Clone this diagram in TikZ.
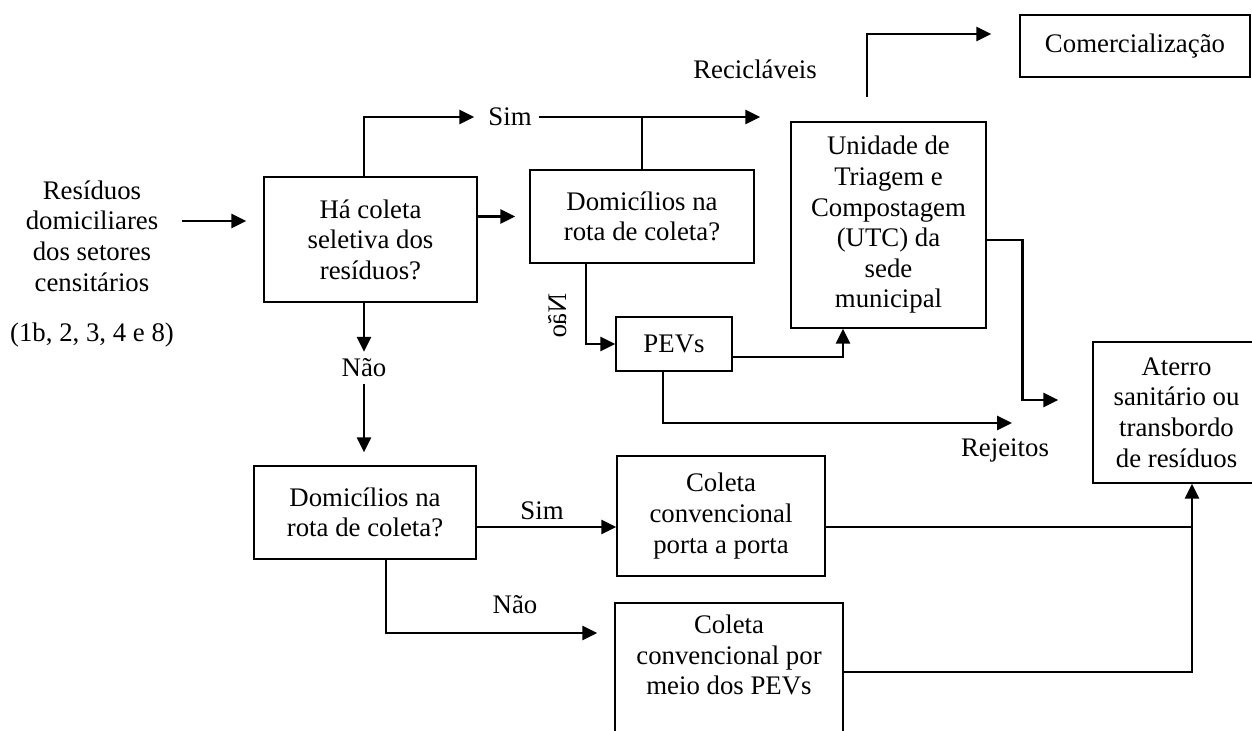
\documentclass[tikz,border=0pt]{standalone}
\usepackage{fontspec}
\setmainfont{Liberation Serif}
\usepackage{tikz}
\usetikzlibrary{arrows.meta}
\usetikzlibrary{positioning}

\begin{document}
\begin{tikzpicture}[x=0.5pt,y=-0.5pt,
	font=\fontsize{13.4}{15.3}\selectfont,
  box/.style={draw,line width=0.7pt,align=center},
  seta/.style={line width=1.35pt,-{Triangle[length=7.5pt,width=7pt]}},
  linha/.style={line width=1.35pt}]
  \useasboundingbox (0,0) rectangle (1252,731);

  \node[align=center] (src) at (92,236) {Resíduos\\domiciliares\\dos setores\\censitários};
  \node (srcNum) at (92,335) {(1b, 2, 3, 4 e 8)};
  \node[box,minimum width=106.5pt,minimum height=62.5pt] (haColeta) at (370.5,239.5) {Há coleta\\seletiva dos\\resíduos?};
  \node[box,minimum width=112pt,minimum height=46.5pt] (domTop) at (642,216.5) {Domicílios na\\rota de coleta?};
  \node[box,minimum width=58pt,minimum height=27pt] (pevs) at (674,344) {PEVs};
  \node[box,minimum width=97.5pt,minimum height=103pt] (utc) at (888.5,225) {Unidade de\\Triagem e\\Compostagem\\(UTC) da\\sede\\municipal};
  \node[box,minimum width=115pt,minimum height=31pt] (comerc) at (1135,46) {Comercialização};
  \node[box,minimum width=83.5pt,minimum height=70.5pt] (aterro) at (1176.5,412.5) {Aterro\\sanitário ou\\transbordo\\de resíduos};
  \node[box,minimum width=111pt,minimum height=46.5pt] (domBot) at (365,512.5) {Domicílios na\\rota de coleta?};
  \node[box,minimum width=104pt,minimum height=60pt] (porta) at (721,516) {Coleta\\convencional\\porta a porta};
  \node[box,minimum width=114pt,minimum height=66pt,text depth=14pt] (pevConv) at (729,669) {Coleta\\convencional por\\meio dos PEVs};

  \node (simTop) at (510,117) {Sim};
  \node (recic) at (755,69) {Recicláveis};
  \node (naoMid) at (364,368) {Não};
  \node[cm={0,-1,-1,0,(0,0)}] (naoRot) at (558,316) {Não};
  \node (rejeitos) at (1005,450) {Rejeitos};
  \node (simBot) at (542,511) {Sim};
  \node (naoBot) at (515,605) {Não};

  \coordinate (srcOut) at (182,221);
  \coordinate (recUp) at (867,97);
  \coordinate (rejIn) at (1012,423);
  \coordinate (aterroIn) at ([xshift=7.75pt]aterro.south);

  \draw[seta,shorten >=8.5pt] (srcOut) -- (srcOut -| haColeta.west);
  \draw[seta] (haColeta.north -| naoMid) |- ([xshift=-3.5pt]simTop.west);
  \draw[seta,shorten >=15pt] (simTop.east) -- (simTop.east -| utc.west);
  \draw[linha] (domTop.north) -- (domTop.north |- simTop.east);
  \draw[seta,shorten >=7pt] (haColeta.east |- domTop.west) -- (domTop.west);
  \draw[seta] (haColeta.south -| naoMid) -- (naoMid.north);
  \draw[seta,shorten >=6.5pt] (naoMid.south) -- (naoMid.south |- domBot.north);
  \draw[seta] ([xshift=-28pt]domTop.south) |- (pevs.west);
  \draw[seta] ([yshift=-6.5pt]pevs.east) -| ([xshift=-22.75pt]utc.south);
  \draw[seta] ([xshift=-5.5pt]pevs.south) |- (rejIn);
  \draw[seta,shorten >=17pt] ([yshift=-7.5pt]utc.east) -- ++(18pt,0) |- ([yshift=6.25pt]aterro.west);
  \draw[seta,shorten >=14pt] (recUp) |- ([yshift=6pt]comerc.west);
  \draw[seta] ([yshift=-7.25pt]domBot.east) -- ([yshift=-7.25pt]domBot.east -| porta.west);
  \draw[seta,shorten >=8.5pt] ([xshift=10.5pt]domBot.south) |- ([yshift=18pt]pevConv.west);
  \draw[linha] ([yshift=-5.5pt]porta.east) -- ([yshift=-5.5pt]porta.east -| aterroIn);
  \draw[seta] ([yshift=-1.5pt]pevConv.east) -| (aterroIn);

\end{tikzpicture}
\end{document}
